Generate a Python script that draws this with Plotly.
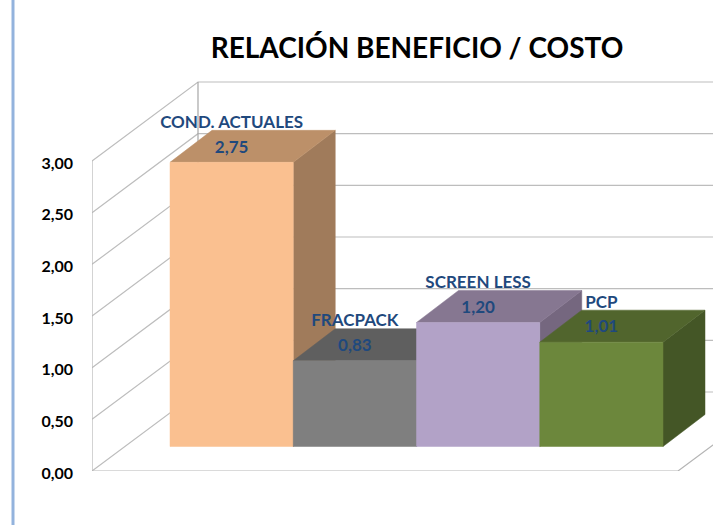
import plotly.graph_objects as go

# ---- data ----
categories = ["COND. ACTUALES", "FRACPACK", "SCREEN LESS", "PCP"]
values = [2.75, 0.83, 1.20, 1.01]
y_ticks = [0, 0.5, 1.0, 1.5, 2.0, 2.5, 3.0]

front_colors = ["#FAC090", "#7F7F7F", "#B2A2C7", "#6C873C"]
top_colors = ["#BC9069", "#5F5F5F", "#867791", "#51652D"]
side_colors = ["#A07B5B", "#505050", "#75677F", "#445626"]

# ---- layout geometry ----
W, H = 713, 525
M_L, M_B = 92, 54
PX_PER_UNIT_Y = 103.33
PX_PER_CAT = 123.25
X_FIRST_EDGE_PX = 170


def dx(px):
    return px / PX_PER_CAT


def dy(px):
    return px / PX_PER_UNIT_Y


X_LEFT = -0.5 - dx(X_FIRST_EDGE_PX - M_L)
X_RIGHT = X_LEFT + dx(W - M_L)
Y_TOP = dy(H - M_B)
WALL_DX, WALL_DY = dx(106), dy(79)      # full floor depth
BAR_DX, BAR_DY = dx(42), dy(32)         # depth of a bar
BAR_BASE = dy(24.5)                     # how far back the bars stand
FLOOR_END = X_LEFT + dx(586)
BACK_END = FLOOR_END + WALL_DX

fig = go.Figure()


def line(xs, ys, color, width=1.0):
    fig.add_trace(go.Scatter(x=xs, y=ys, mode="lines", cliponaxis=False,
                             line=dict(color=color, width=width),
                             hoverinfo="skip", showlegend=False))


def face(xs, ys, color):
    fig.add_trace(go.Scatter(x=xs + xs[:1], y=ys + ys[:1], mode="lines",
                             fill="toself", fillcolor=color,
                             line=dict(color=color, width=0.5),
                             hoverinfo="skip", showlegend=False))


# walls and gridlines
for t in y_ticks:
    line([X_LEFT, X_LEFT + WALL_DX, X_RIGHT + 1],
         [t, t + WALL_DY, t + WALL_DY], "#BDBDBD", 1.2)
line([X_LEFT, X_LEFT], [0, y_ticks[-1]], "#B5B5B5", 1.2)
line([X_LEFT + WALL_DX, X_LEFT + WALL_DX],
     [WALL_DY, y_ticks[-1] + WALL_DY], "#A6A6A6", 1.2)
line([X_LEFT, FLOOR_END, BACK_END], [0, 0, WALL_DY], "#B5B5B5", 1.2)

# bars, left to right so each one covers the previous one's hidden part
for i, v in enumerate(values):
    x0, x1 = i - 0.5, i + 0.5
    y0, y1 = BAR_BASE, BAR_BASE + v
    face([x1, x1 + BAR_DX, x1 + BAR_DX, x1],
         [y0, y0 + BAR_DY, y1 + BAR_DY, y1], side_colors[i])
    face([x0, x1, x1 + BAR_DX, x0 + BAR_DX],
         [y1, y1, y1 + BAR_DY, y1 + BAR_DY], top_colors[i])
    face([x0, x1, x1, x0], [y0, y0, y1, y1], front_colors[i])

# labels
centers = list(range(len(values)))
label_font = dict(family="Lato", size=17, color="#1F497D", weight="bold")
fig.add_trace(go.Scatter(
    x=centers, y=[BAR_BASE + v + dy(38.5) for v in values], mode="text",
    text=categories, textposition="middle center", textfont=label_font,
    cliponaxis=False, hoverinfo="skip", showlegend=False))
fig.add_trace(go.Scatter(
    x=centers, y=[BAR_BASE + v + dy(14) for v in values], mode="text",
    text=[f"{v:.2f}".replace(".", ",") for v in values],
    textposition="middle center", textfont=label_font,
    cliponaxis=False, hoverinfo="skip", showlegend=False))

fig.update_layout(
    width=W, height=H, autosize=False,
    margin=dict(l=M_L, r=0, t=0, b=M_B, pad=0),
    paper_bgcolor="white", plot_bgcolor="white",
    showlegend=False, separators=",.",
    title=dict(text="RELACIÓN BENEFICIO / COSTO",
               font=dict(family="Lato", size=28, color="#000000", weight="bold"),
               x=417 / W, xanchor="center", xref="container",
               y=1 - 48 / H, yanchor="middle", yref="container"),
    xaxis=dict(range=[X_LEFT, X_RIGHT], visible=False, fixedrange=True),
    yaxis=dict(range=[0, Y_TOP], tickvals=y_ticks, tickformat=".2f",
               showgrid=False, zeroline=False, showline=False, ticks="",
               ticklabelstandoff=18, ticklabelshift=2, fixedrange=True,
               tickfont=dict(family="Lato", size=16, color="#000000", weight="bold")),
    shapes=[dict(type="line", xref="paper", yref="paper",
                 x0=-(M_L - 13) / (W - M_L), x1=-(M_L - 13) / (W - M_L),
                 y0=-M_B / (H - M_B), y1=1,
                 line=dict(color="#93B3DD", width=3))],
)

fig.write_html(
    "out.html",
    config={"displayModeBar": False},
    post_script="document.body.style.margin='0';document.documentElement.style.overflow='hidden';",
)
